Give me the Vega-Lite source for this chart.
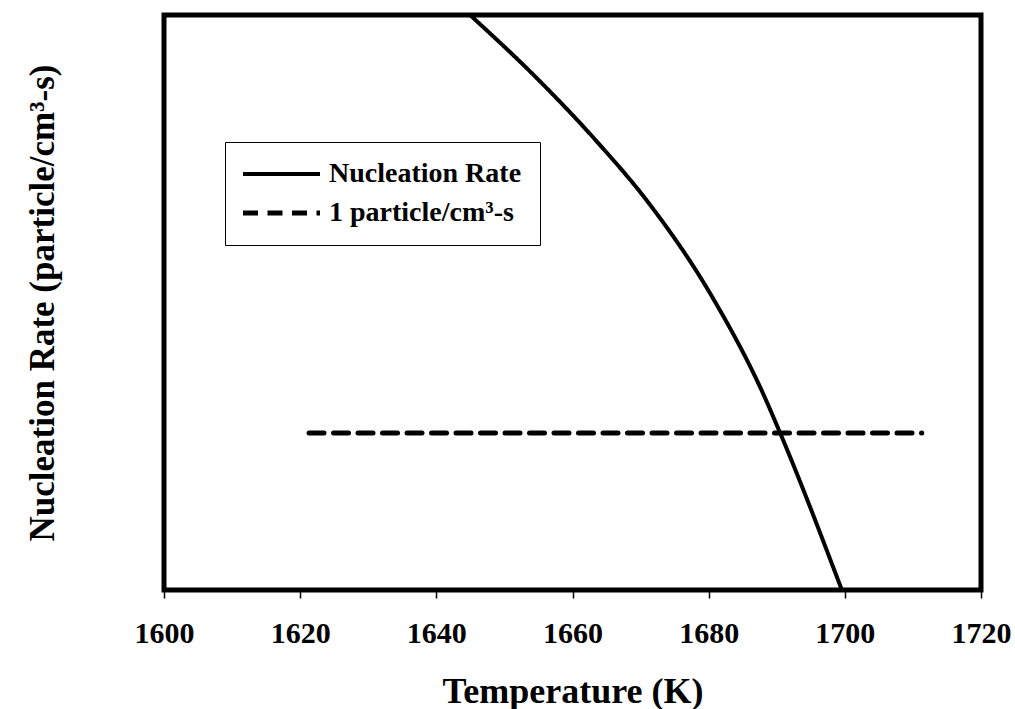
{
  "$schema": "https://vega.github.io/schema/vega-lite/v6.json",
  "width": 817,
  "height": 575,
  "autosize": {"type": "none"},
  "padding": {"left": 164, "top": 15, "right": 34, "bottom": 119},
  "background": "white",
  "config": {
    "view": {"stroke": "black", "strokeWidth": 5},
    "font": "Liberation Serif"
  },
  "data": {
    "values": [
      {"series": "Nucleation Rate", "temperature": 1644.95, "rate": 100},
      {"series": "Nucleation Rate", "temperature": 1654.6, "rate": 89.2},
      {"series": "Nucleation Rate", "temperature": 1663.8, "rate": 77.7},
      {"series": "Nucleation Rate", "temperature": 1671.0, "rate": 67.6},
      {"series": "Nucleation Rate", "temperature": 1680.8, "rate": 50.4},
      {"series": "Nucleation Rate", "temperature": 1687.9, "rate": 34.4},
      {"series": "Nucleation Rate", "temperature": 1690.5, "rate": 27.3},
      {"series": "Nucleation Rate", "temperature": 1699.56, "rate": 0},
      {"series": "1 particle/cm³-s", "temperature": 1621.3, "rate": 27.3},
      {"series": "1 particle/cm³-s", "temperature": 1711.3, "rate": 27.3}
    ]
  },
  "mark": {"type": "line", "color": "black", "interpolate": "monotone", "strokeCap": "round", "clip": true},
  "encoding": {
    "x": {
      "field": "temperature",
      "type": "quantitative",
      "scale": {"domain": [1600, 1720], "nice": false, "zero": false},
      "axis": {
        "title": "Temperature (K)",
        "values": [1600, 1620, 1640, 1660, 1680, 1700, 1720],
        "format": "d",
        "domain": false,
        "grid": false,
        "ticks": true,
        "tickSize": 8,
        "tickWidth": 1.5,
        "tickColor": "black",
        "labelFont": "Liberation Serif",
        "labelFontWeight": "bold",
        "labelFontSize": 30,
        "labelColor": "black",
        "labelPadding": 20,
        "labelFlush": false,
        "labelOverlap": false,
        "titleFont": "Liberation Serif",
        "titleFontWeight": "bold",
        "titleFontSize": 36,
        "titleColor": "black",
        "titlePadding": 26
      }
    },
    "y": {
      "field": "rate",
      "type": "quantitative",
      "scale": {"domain": [0, 100], "nice": false},
      "axis": {
        "title": "Nucleation Rate (particle/cm³-s)",
        "labels": false,
        "ticks": false,
        "domain": false,
        "grid": false,
        "titleFont": "Liberation Serif",
        "titleFontWeight": "bold",
        "titleFontSize": 35,
        "titleColor": "black",
        "titlePadding": 104
      }
    },
    "detail": {"field": "series", "type": "nominal"},
    "strokeDash": {
      "field": "series",
      "type": "nominal",
      "scale": {"domain": ["Nucleation Rate", "1 particle/cm³-s"], "range": [[1, 0], [15, 9.5]]},
      "legend": {
        "title": null,
        "orient": "none",
        "legendX": 61,
        "legendY": 127,
        "strokeColor": "black",
        "padding": 18,
        "symbolType": "M-2,0H9",
        "symbolSize": 196,
        "symbolStrokeWidth": 4,
        "symbolStrokeColor": "black",
        "symbolFillColor": "transparent",
        "labelFont": "Liberation Serif",
        "labelFontWeight": "bold",
        "labelFontSize": 28,
        "labelColor": "black",
        "labelOffset": 58,
        "labelLimit": 400,
        "rowPadding": 11
      }
    },
    "strokeWidth": {
      "field": "series",
      "type": "nominal",
      "scale": {"domain": ["Nucleation Rate", "1 particle/cm³-s"], "range": [4, 5]},
      "legend": null
    }
  }
}
